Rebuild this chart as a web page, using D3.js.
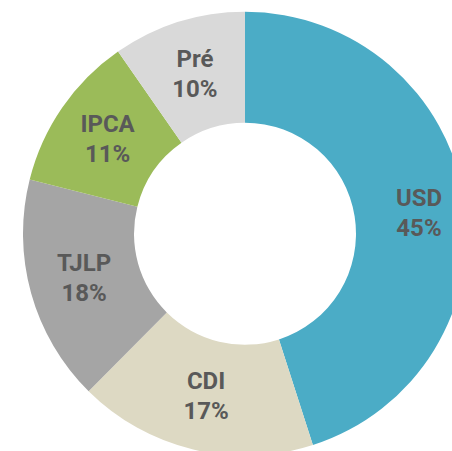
<!DOCTYPE html>
<html>
<head>
<meta charset="utf-8">
<script src="https://cdn.jsdelivr.net/npm/d3@7"></script>
<style>
  html, body { margin: 0; padding: 0; background: #fff; }
  svg { display: block; }
</style>
</head>
<body>
<div id="chart"></div>
<script>
// slice data, clockwise from 12 o'clock
const categories = ["USD", "CDI", "TJLP", "IPCA", "Pré"];
const values = [45.1, 17.4, 16.5, 11.4, 9.7];
const pctLabels = ["45%", "17%", "18%", "11%", "10%"];
const colors = ["#4BACC6", "#DDD9C3", "#A5A5A5", "#9BBB59", "#D9D9D9"];

const width = 452, height = 451;
const cx = 245, cy = 233.7;
const outerR = 222, innerR = 111;

const svg = d3.select("#chart")
    .append("svg")
    .attr("width", width)
    .attr("height", height);

const g = svg.append("g")
    .attr("transform", "translate(" + cx + "," + cy + ")");

const pie = d3.pie().sort(null).value(d => d.value);
const arc = d3.arc().innerRadius(innerR).outerRadius(outerR);
const labelArc = d3.arc().innerRadius(167).outerRadius(167);

const data = categories.map((c, i) => ({name: c, value: values[i], pct: pctLabels[i], color: colors[i]}));
const arcs = pie(data);

g.selectAll("path")
    .data(arcs)
    .enter()
    .append("path")
    .attr("d", arc)
    .attr("fill", d => d.data.color);

// USD label sits a bit further out than the centroid in the original
const nudge = {USD: [9, 5]};

const labels = g.selectAll("text.lbl")
    .data(arcs)
    .enter()
    .append("text")
    .attr("class", "lbl")
    .attr("text-anchor", "middle")
    .attr("font-family", "Roboto, 'DejaVu Sans', sans-serif")
    .attr("font-weight", "bold")
    .attr("font-size", 24)
    .attr("fill", "#595959")
    .attr("transform", d => {
        let [x, y] = labelArc.centroid(d);
        let n = nudge[d.data.name] || [0, 0];
        return "translate(" + (x + n[0]) + "," + (y + n[1]) + ")";
    });

labels.append("tspan")
    .attr("x", 0)
    .attr("y", -7)
    .text(d => d.data.name);

labels.append("tspan")
    .attr("x", 0)
    .attr("y", 23)
    .text(d => d.data.pct);
</script>
</body>
</html>
